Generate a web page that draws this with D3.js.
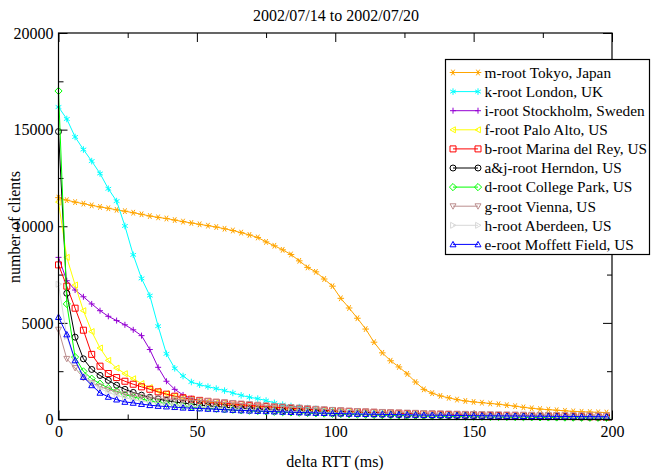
<!DOCTYPE html>
<html>
<head>
<meta charset="utf-8">
<script src="https://cdn.jsdelivr.net/npm/d3@7"></script>
<style>
  body { margin: 0; background: #fff; }
  text { font-family: "Liberation Serif", "DejaVu Serif", serif; }
</style>
</head>
<body>
<script>
// bins of delta RTT (ms)
var rtt = [0,3,6,9,12,15,18,21,24,27,30,33,36,39,42,45,48,51,54,57,60,63,66,69,72,75,78,81,84,87,90,93,96,99,
  102,105,108,111,114,117,120,123,126,129,132,135,138,141,144,147,150,153,156,159,162,165,168,171,174,177,180,183,186,189,192,195,198]

var mRoot = [11480,11350,11250,11170,11080,11000,10930,10850,10780,10700,
  10620,10530,10460,10400,10320,10240,10170,10100,10030,9960,
  9870,9780,9670,9550,9420,9190,8990,8780,8540,8210,
  7870,7640,7270,6900,6270,5770,5240,4680,4000,3450,
  3040,2720,2360,1940,1560,1360,1220,1120,1030,960,
  910,870,830,790,740,690,630,580,540,510,
  480,450,420,400,385,370,360]
var kRoot = [16170,15550,14620,13970,13370,12730,11940,11300,10015,8520,
  7300,6410,4830,3400,2650,2250,1940,1800,1700,1600,
  1495,1375,1250,1150,1080,980,860,770,700,640,
  590,550,510,480,450,420,400,370,350,330,
  310,290,280,260,250,240,230,220,210,200,
  190,180,175,170,160,155,150,145,140,135,
  130,125,120,115,110,105,100]
var iRoot = [8390,7180,6700,6350,5980,5630,5340,5120,4900,4640,
  4340,3620,2700,1980,1560,1270,1080,960,880,820,
  760,710,670,630,590,560,530,500,475,450,
  430,410,390,370,350,335,320,305,290,280,
  270,260,250,240,230,220,215,210,200,195,
  190,185,180,175,170,165,160,155,150,145,
  140,135,130,125,120,118,115]
var fRoot = [11250,8390,6960,5630,4550,3700,3060,2660,2370,2110,
  1860,1650,1480,1340,1220,1120,1040,970,910,860,
  810,770,730,690,650,620,590,560,530,505,
  480,460,440,420,400,380,365,350,335,320,
  305,295,285,275,265,255,245,235,228,220,
  212,205,198,192,186,180,174,168,162,156,
  150,145,140,135,130,125,120]
var bRoot = [8000,6900,5760,4620,3370,2760,2380,2170,1980,1825,
  1690,1565,1430,1310,1205,1120,1050,990,940,890,
  850,810,770,730,700,670,640,610,580,555,
  530,505,480,460,440,420,400,385,370,355,
  340,325,310,300,290,280,270,260,250,240,
  232,224,216,208,200,193,186,179,172,165,
  160,155,150,145,140,135,130]
var ajRoot = [14900,6530,4260,3140,2590,2280,2025,1770,1560,1400,
  1260,1150,1060,980,910,850,800,750,710,670,
  635,600,570,545,520,495,470,450,430,410,
  390,375,360,345,330,315,300,290,280,270,
  260,250,240,230,222,215,208,200,195,190,
  185,180,175,170,165,160,155,150,146,142,
  138,134,130,126,122,118,114]
var dRoot = [17000,5980,3230,2490,2110,1850,1630,1460,1290,1170,
  1060,960,880,810,750,700,660,620,585,555,
  525,500,475,455,435,415,395,380,365,350,
  335,320,305,292,280,268,256,245,235,225,
  215,206,198,190,182,175,168,162,156,150,
  145,140,135,130,126,122,118,114,110,106,
  102,98,95,92,90,88,86]
var gRoot = [4650,3140,2665,2150,1900,1700,1550,1420,1320,1240,
  1180,1130,1090,1060,1040,1020,1000,980,950,920,
  890,860,830,800,770,740,710,680,650,620,
  590,560,530,500,480,460,440,425,410,395,
  380,370,360,350,340,330,320,312,304,296,
  290,284,278,272,266,260,255,250,245,240,
  236,232,228,224,220,216,212]
var hRoot = [7000,4300,3000,2300,1900,1600,1400,1250,1130,1030,
  950,890,840,790,750,715,685,655,625,600,
  575,550,525,505,485,465,445,430,415,400,
  385,370,355,340,330,320,310,300,290,280,
  272,264,256,248,240,233,226,220,214,208,
  202,196,190,185,180,175,170,165,160,156,
  152,148,144,140,136,132,128]
var eRoot = [5300,4400,3060,2200,1770,1380,1170,1030,910,860,
  800,740,700,670,640,610,590,570,550,530,
  510,490,470,455,440,425,410,395,380,365,
  350,340,330,315,305,295,285,278,271,264,
  257,250,244,238,232,226,220,215,210,205,
  200,196,192,188,184,180,176,172,168,164,
  160,157,154,151,148,145,142]

var names = ["m-root Tokyo, Japan", "k-root London, UK", "i-root Stockholm, Sweden", "f-root Palo Alto, US",
  "b-root Marina del Rey, US", "a&j-root Herndon, US", "d-root College Park, US", "g-root Vienna, US",
  "h-root Aberdeen, US", "e-root Moffett Field, US"]
var colores = ["#ffa500", "#00ffff", "#9400d3", "#ffff00", "#ff0000", "#000000", "#00ff00", "#bc8f8f", "#d8d8d8", "#0000ff"]
var marcas = ["star", "asterisk", "plus", "triLeft", "square", "circle", "diamond", "triDown", "triRight", "triUp"]
var valores = [mRoot, kRoot, iRoot, fRoot, bRoot, ajRoot, dRoot, gRoot, hRoot, eRoot]

var xTicks = [0, 50, 100, 150, 200]
var xMinor = [25, 75, 125, 175]
var yTicks = [0, 5000, 10000, 15000, 20000]
var yMinor = [2500, 7500, 12500, 17500]

var width = 655, height = 470
var margin = {top: 33, bottom: 50.5, left: 58.5, right: 43}

var svg = d3.select("body").append("svg")
  .attr("width", width)
  .attr("height", height)

var x = d3.scaleLinear().domain([0, 200]).range([margin.left, width - margin.right])
var y = d3.scaleLinear().domain([0, 20000]).range([height - margin.bottom, margin.top])

// marcadores tipo gnuplot
var sym = d3.symbol()
function marca(tipo) {
  var r = 3
  switch (tipo) {
    case "star": return sym.type(d3.symbolAsterisk).size(30)()
    case "asterisk": return sym.type(d3.symbolAsterisk).size(30)()
    case "plus": return "M" + (-r) + ",0H" + r + "M0," + (-r) + "V" + r
    case "square": return "M" + (-r) + "," + (-r) + "h" + (2 * r) + "v" + (2 * r) + "h" + (-2 * r) + "Z"
    case "circle": return "M" + r + ",0A" + r + "," + r + " 0 1,1 " + (-r) + ",0A" + r + "," + r + " 0 1,1 " + r + ",0Z"
    case "diamond": return "M0," + (-r * 1.2) + "L" + (r * 1.2) + ",0L0," + (r * 1.2) + "L" + (-r * 1.2) + ",0Z"
    case "triUp": return "M0," + (-r) + "L" + r + "," + (r * 0.8) + "L" + (-r) + "," + (r * 0.8) + "Z"
    case "triDown": return "M0," + r + "L" + r + "," + (-r * 0.8) + "L" + (-r) + "," + (-r * 0.8) + "Z"
    case "triLeft": return "M" + (-r) + ",0L" + (r * 0.8) + "," + (-r) + "L" + (r * 0.8) + "," + r + "Z"
    case "triRight": return "M" + r + ",0L" + (-r * 0.8) + "," + (-r) + "L" + (-r * 0.8) + "," + r + "Z"
  }
}
function giro(tipo) { return tipo == "star" ? " rotate(90)" : "" }

// ejes con ticks hacia dentro
function sinDominio(g) { g.select(".domain").remove(); g.selectAll("line").attr("stroke", "#000") }
var bottom = height - margin.bottom, right = width - margin.right

svg.append("g").attr("transform", "translate(0," + bottom + ")")
  .call(d3.axisBottom(x).tickValues(xTicks).tickSize(-9).tickPadding(6))
  .call(sinDominio)
svg.append("g").attr("transform", "translate(0," + bottom + ")")
  .call(d3.axisBottom(x).tickValues(xMinor).tickSize(-5).tickFormat(""))
  .call(sinDominio)
svg.append("g").attr("transform", "translate(0," + margin.top + ")")
  .call(d3.axisTop(x).tickValues(xTicks).tickSize(-9).tickFormat(""))
  .call(sinDominio)
svg.append("g").attr("transform", "translate(0," + margin.top + ")")
  .call(d3.axisTop(x).tickValues(xMinor).tickSize(-5).tickFormat(""))
  .call(sinDominio)
svg.append("g").attr("transform", "translate(" + margin.left + ",0)")
  .call(d3.axisLeft(y).tickValues(yTicks).tickSize(-9).tickPadding(5).tickFormat(d3.format("d")))
  .call(sinDominio)
svg.append("g").attr("transform", "translate(" + margin.left + ",0)")
  .call(d3.axisLeft(y).tickValues(yMinor).tickSize(-5).tickFormat(""))
  .call(sinDominio)
svg.append("g").attr("transform", "translate(" + right + ",0)")
  .call(d3.axisRight(y).tickValues(yTicks).tickSize(-9).tickFormat(""))
  .call(sinDominio)
svg.append("g").attr("transform", "translate(" + right + ",0)")
  .call(d3.axisRight(y).tickValues(yMinor).tickSize(-5).tickFormat(""))
  .call(sinDominio)

svg.selectAll(".tick text")
  .attr("font-family", "Liberation Serif")
  .attr("font-size", 16)
  .attr("fill", "#000")

// series
var linea = d3.line().x((d, i) => x(rtt[i])).y(d => y(d))

valores.forEach(function (serie, s) {
  var g = svg.append("g")
  g.append("path")
    .attr("d", linea(serie))
    .attr("fill", "none")
    .attr("stroke", colores[s])
    .attr("stroke-width", 1)
  g.selectAll("path.m")
    .data(serie)
    .enter()
    .append("path")
    .attr("class", "m")
    .attr("d", marca(marcas[s]))
    .attr("transform", (d, i) => "translate(" + x(rtt[i]) + "," + y(d) + ")" + giro(marcas[s]))
    .attr("fill", "none")
    .attr("stroke", colores[s])
    .attr("stroke-width", 1)
})

// marco
svg.append("rect")
  .attr("x", margin.left).attr("y", margin.top)
  .attr("width", right - margin.left).attr("height", bottom - margin.top)
  .attr("fill", "none").attr("stroke", "#000").attr("stroke-width", 1.2)

// leyenda
var leg = svg.append("g").attr("transform", "translate(445.5,59.5)")
leg.append("rect").attr("width", 204).attr("height", 195)
  .attr("fill", "#fff").attr("stroke", "#000").attr("stroke-width", 1.2)

var filas = leg.selectAll("g.fila").data(names).enter().append("g")
  .attr("class", "fila")
  .attr("transform", (d, i) => "translate(0," + (13 + i * 19.1) + ")")
filas.append("line").attr("x1", 7.5).attr("x2", 32.5)
  .attr("stroke", (d, i) => colores[i]).attr("stroke-width", 1)
filas.each(function (d, i) {
  var f = d3.select(this)
  ;[7.5, 32.5].forEach(function (px) {
    f.append("path").attr("d", marca(marcas[i]))
      .attr("transform", "translate(" + px + ",0)" + giro(marcas[i]))
      .attr("fill", "none").attr("stroke", colores[i]).attr("stroke-width", 1)
  })
})
filas.append("text").attr("x", 39).attr("dy", "0.35em")
  .attr("font-size", 15.3).text(d => d)

// titulos
svg.append("text").attr("x", 336).attr("y", 21).attr("text-anchor", "middle")
  .attr("font-size", 16).text("2002/07/14 to 2002/07/20")
svg.append("text").attr("x", 335).attr("y", 467).attr("text-anchor", "middle")
  .attr("font-size", 16).text("delta RTT (ms)")
svg.append("text").attr("transform", "translate(20,227) rotate(-90)").attr("text-anchor", "middle")
  .attr("font-size", 16).text("number of clients")
</script>
</body>
</html>
